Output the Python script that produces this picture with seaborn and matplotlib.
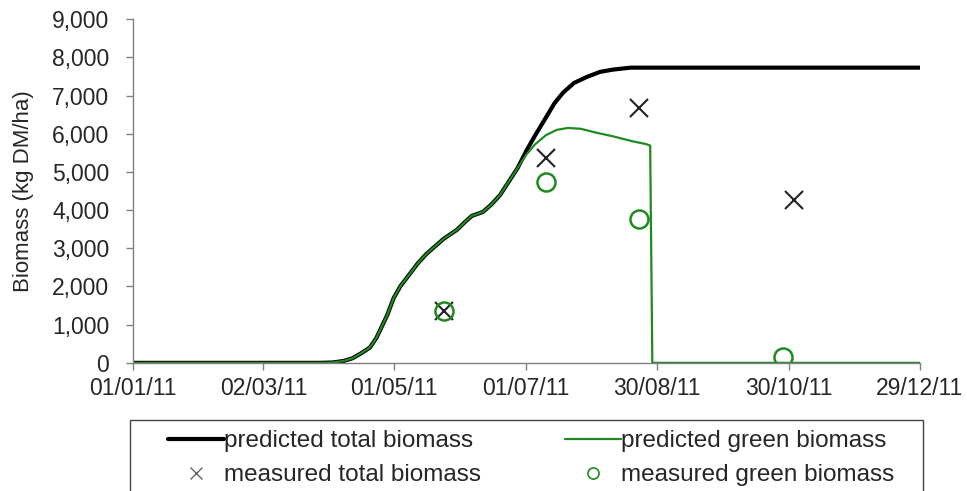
import pandas as pd
import numpy as np
import matplotlib
matplotlib.use("Agg")
import matplotlib.pyplot as plt
import matplotlib.dates as mdates
from matplotlib.patches import Rectangle
from matplotlib.lines import Line2D
import seaborn as sns

# --- data (day offset from 01/01/2011, biomass kg DM/ha) ---
total_days = [0, 86, 92, 97, 101, 105, 109, 112, 117, 120, 123, 127, 131, 135, 138,
              143, 149, 153, 156, 161, 165, 169, 173, 177, 181, 185, 190, 194, 198,
              203, 209, 215, 221, 229, 362]
total_vals = [0, 0, 10, 50, 120, 250, 400, 650, 1250, 1700, 2000, 2300, 2600, 2850, 3000,
              3250, 3480, 3700, 3850, 3950, 4150, 4400, 4750, 5100, 5550, 5950, 6420, 6800, 7080,
              7330, 7490, 7620, 7680, 7730, 7730]

green_days = [0, 86, 92, 97, 101, 105, 109, 112, 117, 120, 123, 127, 131, 135, 138,
              143, 149, 153, 156, 161, 165, 169, 173, 177, 181, 185, 190, 195, 200,
              206, 213, 221, 230, 236, 238, 239, 362]
green_vals = [0, 0, 10, 50, 120, 250, 400, 650, 1250, 1700, 2000, 2300, 2600, 2850, 3000,
              3250, 3480, 3700, 3850, 3950, 4150, 4400, 4750, 5100, 5450, 5720, 5960, 6100, 6150,
              6130, 6030, 5930, 5800, 5730, 5690, 0, 0]

meas_total_days = [143, 190, 233, 304]
meas_total_vals = [1360, 5370, 6680, 4270]
meas_green_days = [143, 190, 233, 299]
meas_green_vals = [1360, 4740, 3770, 160]

tick_dates = ["2011-01-01", "2011-03-02", "2011-05-01", "2011-07-01",
              "2011-08-30", "2011-10-30", "2011-12-29"]

start = pd.Timestamp("2011-01-01")
to_dates = lambda d: start + pd.to_timedelta(d, unit="D")

df_total = pd.DataFrame({"date": to_dates(total_days), "val": total_vals})
df_green = pd.DataFrame({"date": to_dates(green_days), "val": green_vals})
df_mt = pd.DataFrame({"date": to_dates(meas_total_days), "val": meas_total_vals})
df_mg = pd.DataFrame({"date": to_dates(meas_green_days), "val": meas_green_vals})

sns.set_style("white")
plt.rcParams["font.family"] = ["Liberation Sans", "DejaVu Sans"]

GREEN = "#1f8a1f"
GREY = "#808080"

fig = plt.figure(figsize=(9.67, 4.91), dpi=100)
ax = fig.add_axes([0.1375, 0.261, 0.8135, 0.700])

sns.lineplot(data=df_total, x="date", y="val", ax=ax, color="black", lw=3.0, legend=False)
sns.lineplot(data=df_green, x="date", y="val", ax=ax, color=GREEN, lw=1.6, legend=False)
ax.plot(df_mt["date"], df_mt["val"], ls="none", marker="x", ms=13, mew=1.5, color="#222222")
ax.plot(df_mg["date"], df_mg["val"], ls="none", marker="o", ms=13, mew=1.8,
        mfc="none", mec=GREEN)

ax.set_xlim(pd.Timestamp(tick_dates[0]), pd.Timestamp(tick_dates[-1]))
ax.set_ylim(0, 9000)
ax.set_xticks(pd.to_datetime(tick_dates))
ax.xaxis.set_major_formatter(mdates.DateFormatter("%d/%m/%y"))
ax.set_yticks(range(0, 9001, 1000))
ax.yaxis.set_major_formatter(matplotlib.ticker.FuncFormatter(lambda v, p: f"{int(v):,}"))
ax.set_xlabel("")
ax.set_ylabel("Biomass (kg DM/ha)", fontsize=16)
ax.yaxis.set_label_coords(-0.126, 0.5)

for s in ["top", "right"]:
    ax.spines[s].set_visible(False)
for s in ["left", "bottom"]:
    ax.spines[s].set_color(GREY)
    ax.spines[s].set_linewidth(1)
ax.tick_params(axis="both", which="major", labelsize=16.5, length=5, width=1,
               color=GREY, direction="out", left=True, bottom=True)
ax.tick_params(axis="x", pad=5)
ax.tick_params(axis="y", pad=12)

# legend box (bottom runs off the figure like the original)
fig.patches.append(Rectangle((130 / 967, -0.1), (923 - 130) / 967, 0.1 + 1 - 420 / 491,
                             transform=fig.transFigure, fill=False,
                             edgecolor="#444444", lw=1))

handles = [
    Line2D([], [], color="black", lw=3.0),
    Line2D([], [], ls="none", marker="x", ms=9, mew=1.0, color="#666666"),
    Line2D([], [], color=GREEN, lw=1.6),
    Line2D([], [], ls="none", marker="o", ms=8, mew=1.2, mfc="none", mec=GREEN),
]
labels = ["predicted total biomass", "measured total biomass",
          "predicted green biomass", "measured green biomass"]
leg = fig.legend(handles, labels,
                 ncol=2, loc="upper left", bbox_to_anchor=(168 / 967, 1 - 430 / 491),
                 fontsize=17.5, frameon=False,
                 handlelength=2.3, handletextpad=0.0, columnspacing=3.45,
                 borderpad=0, labelspacing=0.5, borderaxespad=0)

fig.savefig("out.png", dpi=100)
